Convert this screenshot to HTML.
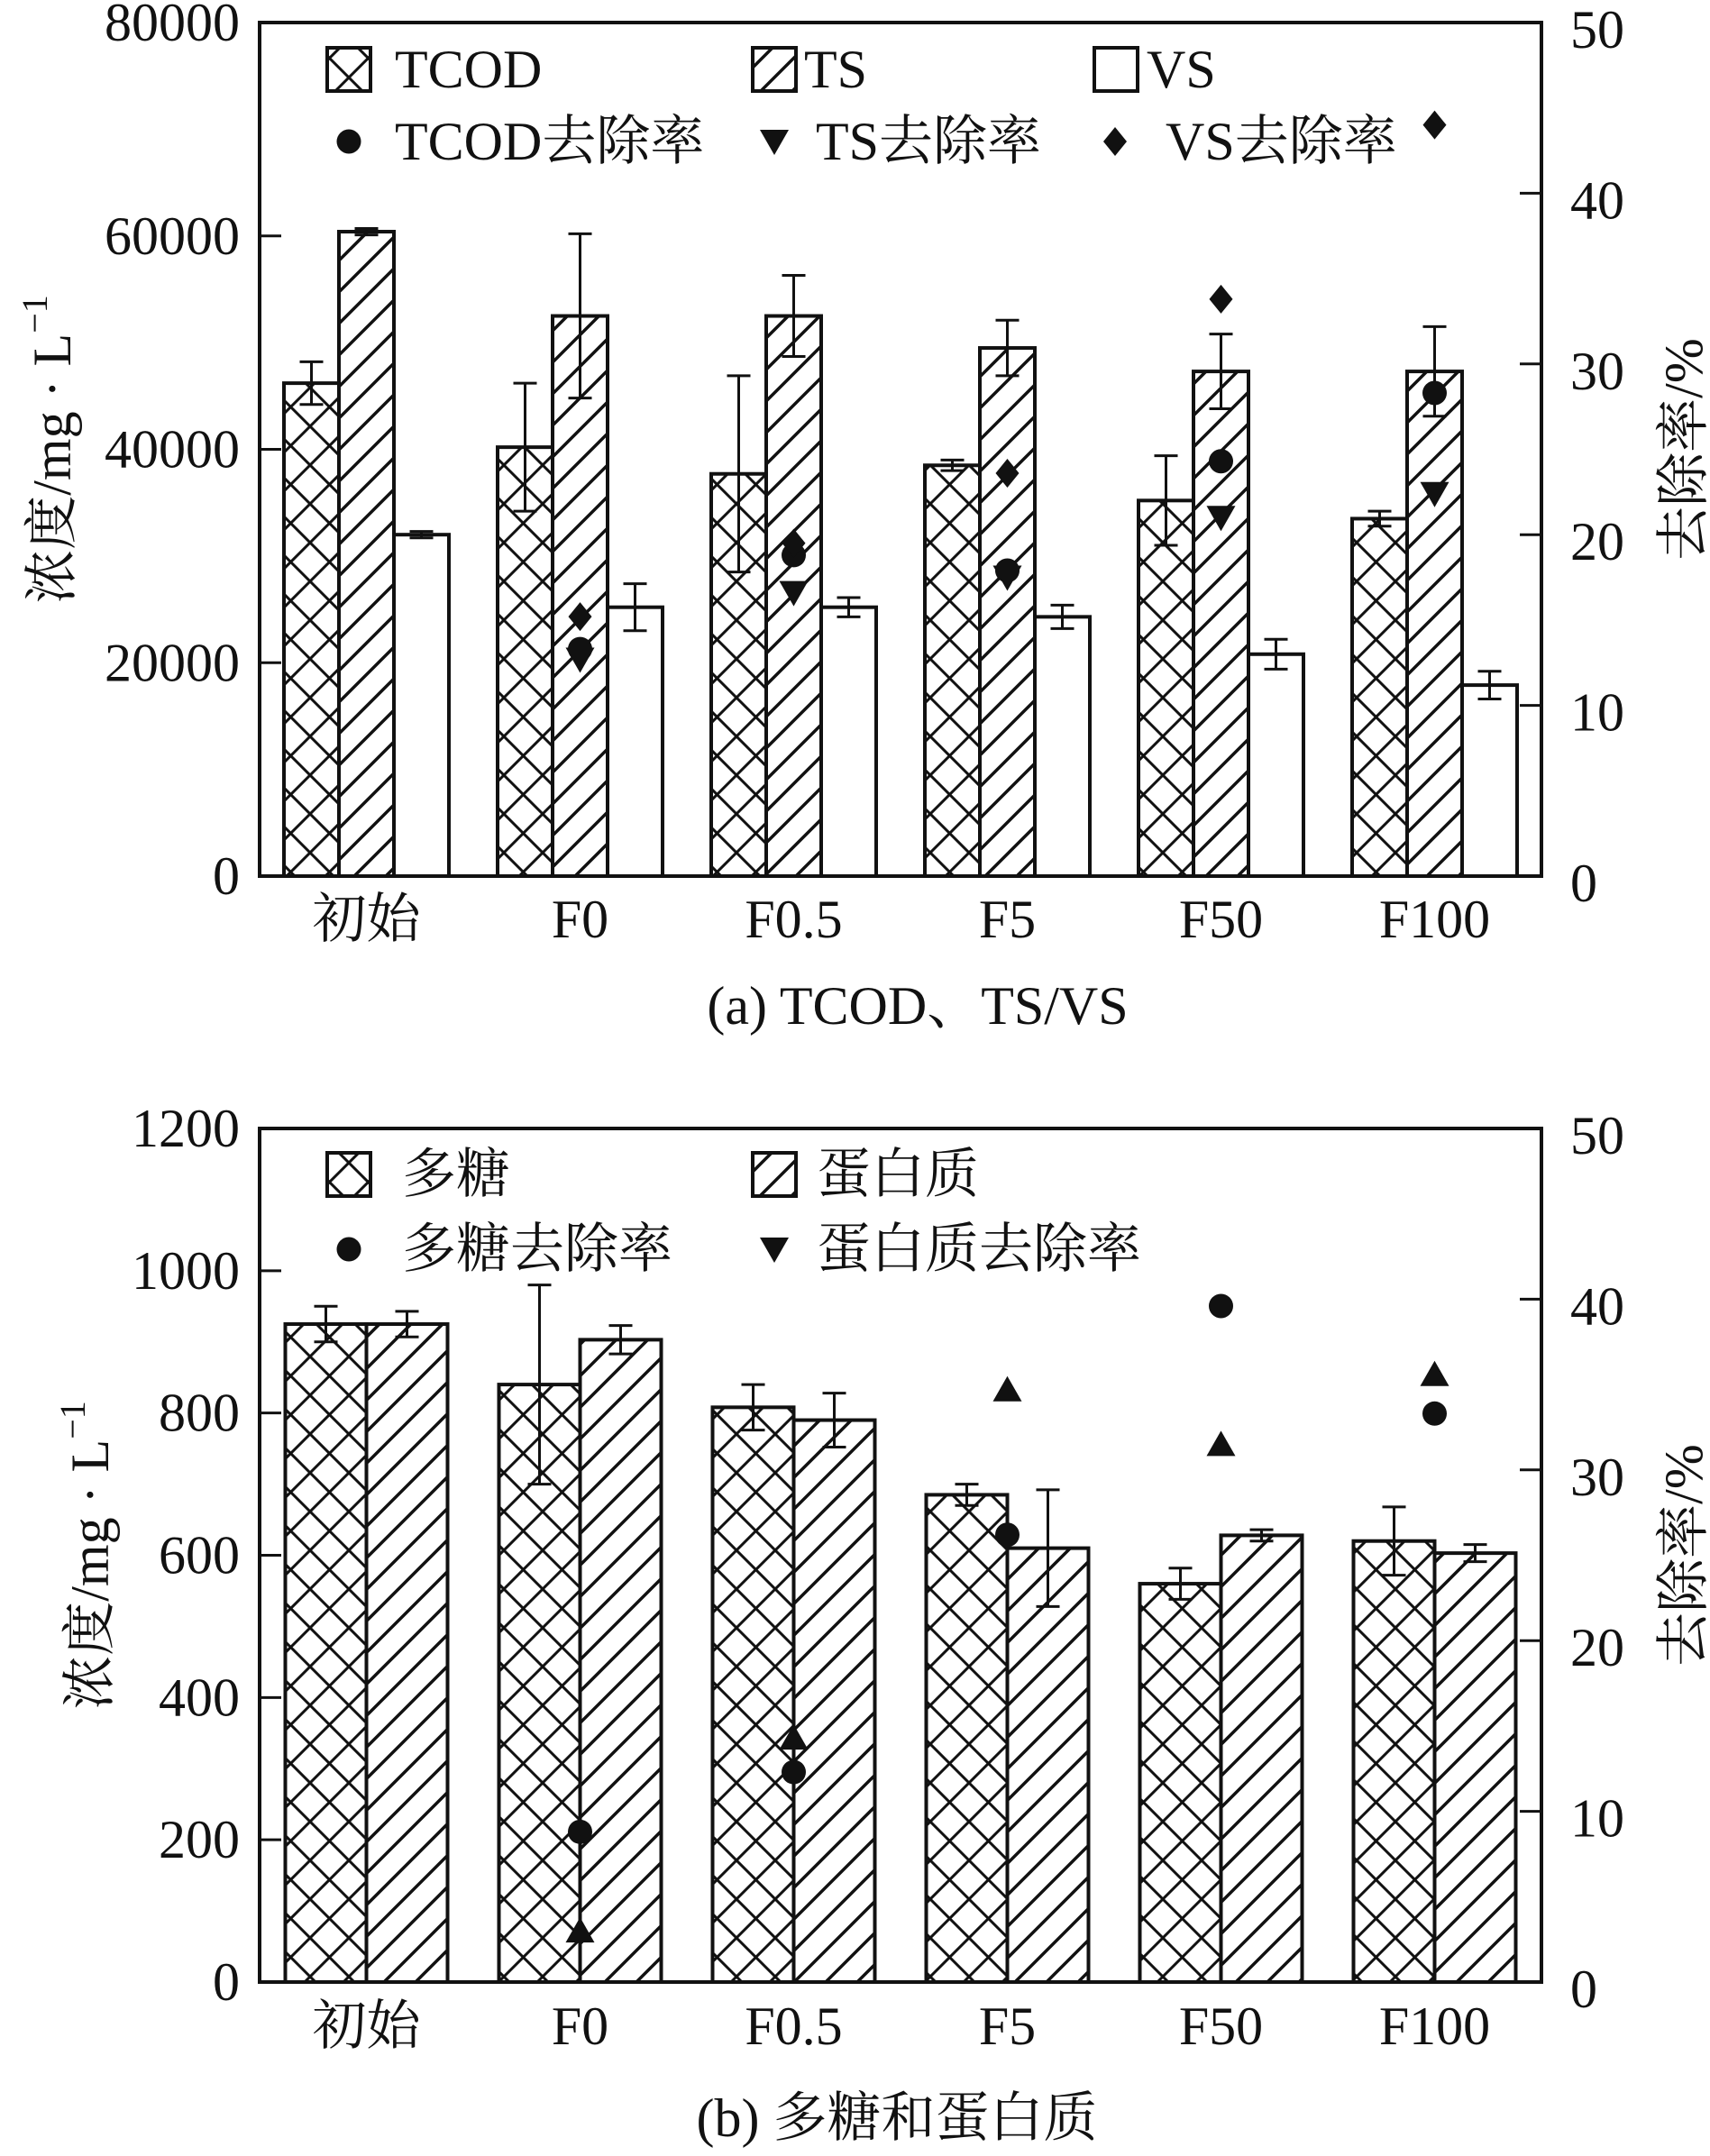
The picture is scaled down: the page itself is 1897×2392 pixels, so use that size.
<!DOCTYPE html>
<html><head><meta charset="utf-8"><style>
html,body{margin:0;padding:0;background:#fff;}
svg{display:block;}
text{font-family:"Liberation Serif","Noto Serif CJK SC","Noto Sans CJK SC",serif;fill:#111;}
</style></head><body>
<svg id="chart" width="1897" height="2392" viewBox="0 0 1897 2392" xmlns="http://www.w3.org/2000/svg">
<defs>
<pattern id="cross" patternUnits="userSpaceOnUse" width="43" height="43">
<path d="M0,0L43,43M43,0L0,43M-5,38L5,48M38,-5L48,5M-5,5L5,-5M38,48L48,38" stroke="#111" stroke-width="3" fill="none"/>
</pattern>
<pattern id="diag" patternUnits="userSpaceOnUse" width="35" height="35">
<path d="M0,35L35,0M-5,5L5,-5M30,40L40,30" stroke="#111" stroke-width="3.5" fill="none"/>
</pattern>
</defs>
<g id="g"></g>
</svg>
<script>
// ---- Chart (a) data ----
const categories = ["初始","F0","F0.5","F5","F50","F100"];
const tcodVals = [46200,40200,37700,38500,35200,33500];
const tcodErr  = [2000,6000,9200,500,4200,700];
const tsVals   = [60400,52500,52500,49500,47300,47300];
const tsErr    = [300,7700,3800,2600,3500,4200];
const vsVals   = [32000,25200,25200,24300,20800,17900];
const vsErr    = [300,2200,900,1100,1400,1300];
const tcodRate = [null,13.3,18.8,17.9,24.3,28.3];
const tsRate   = [null,12.7,16.6,17.5,21.0,22.4];
const vsRate   = [null,15.2,19.5,23.6,33.8,44.0];
const leftTicksA = [0,20000,40000,60000,80000];
const rightTicks = [0,10,20,30,40,50];
// ---- Chart (b) data ----
const polyVals = [925,840,808,685,560,620];
const polyErr  = [25,140,32,15,22,48];
const protVals = [925,903,790,610,628,603];
const protErr  = [18,20,38,82,8,12];
const polyRate = [null,8.8,12.3,26.2,39.6,33.3];
const protRate = [null,3.0,14.3,34.7,31.5,35.6];
const leftTicksB = [0,200,400,600,800,1000,1200];

const NS="http://www.w3.org/2000/svg";
const root=document.getElementById('g');
function el(tag,attrs,parent){const e=document.createElementNS(NS,tag);for(const k in attrs)e.setAttribute(k,attrs[k]);(parent||root).appendChild(e);return e;}
function txt(s,x,y,size,anchor,parent){const t=el('text',{x:x,y:y,'font-size':size,'text-anchor':anchor||'start','dominant-baseline':'central'},parent);t.textContent=s;return t;}

const L=288,R=1710;
function drawChart(cfg){
  const {top,bot,lmax,rmax,ltick,name,bars,rates,catY,capX,capY,cap,ytitleX,legend}=cfg;
  const gp=el('g',{});
  
  
  const yL=v=>bot-(v/lmax)*(bot-top);
  const yR=v=>bot-(v/rmax)*(bot-top);
  const band=(R-L)/categories.length;
  const xC=i=>L+(i+0.5)*band;
  const nb=bars.length, bw=nb===3?61:90;
  bars.forEach((s,si)=>{
    s.vals.forEach((v,i)=>{
      const x0=xC(i)-nb*bw/2+si*bw;
      const r=el('rect',{x:x0,y:yL(v),width:bw,height:bot-yL(v),fill:s.fill,stroke:'#111','stroke-width':4},gp);
      
      
    });
  });
  bars.forEach((s,si)=>{
    s.vals.forEach((v,i)=>{
      const xm=xC(i)-nb*bw/2+si*bw+bw/2;
      const e=s.err[i], y1=yL(v+e), y2=yL(v-e);
      const p=el('path',{d:`M${xm},${y1}V${y2}M${xm-13},${y1}H${xm+13}M${xm-13},${y2}H${xm+13}`,stroke:'#111','stroke-width':3,fill:'none'},gp);
      
      
    });
  });
  rates.forEach(s=>{
    s.vals.forEach((v,i)=>{
      if(v==null)return;
      const x=xC(i), y=yR(v);
      let m;
      if(s.shape==='circle') m=el('circle',{cx:x,cy:y,r:13.5,fill:'#111'},gp);
      else if(s.shape==='down') m=el('path',{d:`M${x-16},${y-13}L${x+16},${y-13}L${x},${y+15}Z`,fill:'#111'},gp);
      else if(s.shape==='up') m=el('path',{d:`M${x-16},${y+13}L${x+16},${y+13}L${x},${y-15}Z`,fill:'#111'},gp);
      else m=el('path',{d:`M${x},${y-16}L${x+13},${y}L${x},${y+16}L${x-13},${y}Z`,fill:'#111'},gp);
      
      
    });
  });
  const f=el('rect',{x:L,y:top,width:R-L,height:bot-top,fill:'none',stroke:'#111','stroke-width':4},gp);
  
  
  ltick.forEach(v=>{
    const y=yL(v);
    el('line',{x1:L,x2:L+24,y1:y,y2:y,stroke:'#111','stroke-width':3},gp);
    const t=txt(String(v),266,y,60,'end',gp);
    
    
  });
  rightTicks.forEach(v=>{
    const y=yR(v);
    el('line',{x1:R-24,x2:R,y1:y,y2:y,stroke:'#111','stroke-width':3},gp);
    const t=txt(String(v),1742,y+8,60,'start',gp);
    
    
  });
  categories.forEach((c,i)=>{
    const t=txt(c,xC(i),catY,60,'middle',gp);
    
    
  });
  const c=txt(cap,capX,capY,60,'middle',gp);
  
  
  const yt=txt('浓度/mg · L',0,0,60,'middle',gp);
  const sup=el('tspan',{dy:-20,'font-size':40},yt); sup.textContent='−1';
  yt.setAttribute('transform',`translate(${ytitleX},${(top+bot)/2}) rotate(-90)`);
  
  
  const rt=txt('去除率/%',0,0,60,'middle',gp);
  rt.setAttribute('transform',`translate(1868,${(top+bot)/2}) rotate(-90)`);
  
  
  legend.forEach(it=>{
    const lg=el('g',{},gp);
    
    
    const x=it.x,y=it.y;
    if(it.fill) el('rect',{x:x-24,y:y-24,width:48,height:48,fill:it.fill,stroke:'#111','stroke-width':4},lg);
    else if(it.shape==='circle') el('circle',{cx:x,cy:y,r:13.5,fill:'#111'},lg);
    else if(it.shape==='down') el('path',{d:`M${x-16},${y-13}L${x+16},${y-13}L${x},${y+15}Z`,fill:'#111'},lg);
    else el('path',{d:`M${x},${y-16}L${x+13},${y}L${x},${y+16}L${x-13},${y}Z`,fill:'#111'},lg);
    txt(it.label,it.tx,y,60,'start',lg);
  });
}
drawChart({top:25,bot:972,lmax:80000,rmax:50,ltick:leftTicksA,name:'chart-a',
  bars:[{key:'tcod',vals:tcodVals,err:tcodErr,fill:'url(#cross)'},{key:'ts',vals:tsVals,err:tsErr,fill:'url(#diag)'},{key:'vs',vals:vsVals,err:vsErr,fill:'#fff'}],
  rates:[{key:'tcod-rate',vals:tcodRate,shape:'circle'},{key:'ts-rate',vals:tsRate,shape:'down'},{key:'vs-rate',vals:vsRate,shape:'diamond'}],
  catY:1020,capX:1018,capY:1116,cap:'(a) TCOD、TS/VS',ytitleX:58,
  legend:[{key:'tcod',x:387,y:77,fill:'url(#cross)',label:'TCOD',tx:438},{key:'ts',x:859,y:77,fill:'url(#diag)',label:'TS',tx:892},{key:'vs',x:1238,y:77,fill:'#fff',label:'VS',tx:1272},
    {key:'tcod-rate',x:387,y:157,shape:'circle',label:'TCOD去除率',tx:438},{key:'ts-rate',x:859,y:157,shape:'down',label:'TS去除率',tx:905},{key:'vs-rate',x:1237,y:157,shape:'diamond',label:'VS去除率',tx:1293}]});
drawChart({top:1252,bot:2199,lmax:1200,rmax:50,ltick:leftTicksB,name:'chart-b',
  bars:[{key:'polysaccharide',vals:polyVals,err:polyErr,fill:'url(#cross)'},{key:'protein',vals:protVals,err:protErr,fill:'url(#diag)'}],
  rates:[{key:'polysaccharide-rate',vals:polyRate,shape:'circle'},{key:'protein-rate',vals:protRate,shape:'up'}],
  catY:2248,capX:995,capY:2350,cap:'(b) 多糖和蛋白质',ytitleX:100,
  legend:[{key:'polysaccharide',x:387,y:1303,fill:'url(#cross)',label:'多糖',tx:446},{key:'protein',x:859,y:1303,fill:'url(#diag)',label:'蛋白质',tx:906},
    {key:'polysaccharide-rate',x:387,y:1386,shape:'circle',label:'多糖去除率',tx:446},{key:'protein-rate',x:859,y:1386,shape:'down',label:'蛋白质去除率',tx:906}]});
</script>
</body></html>
